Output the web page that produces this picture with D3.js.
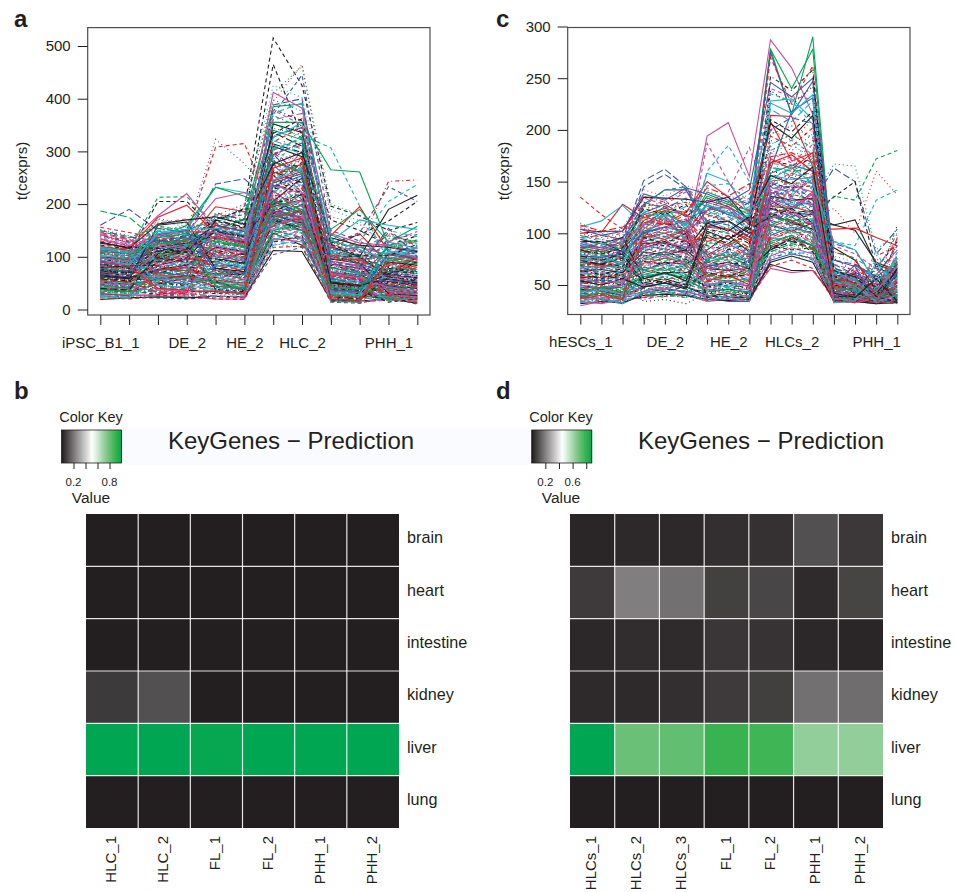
<!DOCTYPE html>
<html>
<head>
<meta charset="utf-8">
<script src="https://cdnjs.cloudflare.com/ajax/libs/d3/7.8.5/d3.min.js"></script>
<style>
  html, body { margin: 0; padding: 0; background: #fff; overflow: hidden; }
  text { font-family: "Liberation Sans", Arial, sans-serif; fill: #231f20; }
</style>
</head>
<body>
<div id="chart"></div>
<script>
// PANEL A DATA
const samplesA = ["iPSC_B1_1","iPSC_B1_2","DE_1","DE_2","HE_1","HE_2","HLC_1","HLC_2","FL_1","FL_2","PHH_1","PHH_2"];
const labelsA = ["iPSC_B1_1","DE_2","HE_2","HLC_2","PHH_1"];
const ticksA = [0,100,200,300,400,500];

const bulkA = [
[19,22,24,22,25,24,112,110,18,16,20,12],[22,20,26,28,20,19,118,120,16,14,18,14],[24,26,23,25,27,29,125,118,22,20,24,16],
[26,24,30,27,33,28,130,124,20,12,22,18],[28,30,34,31,24,26,122,132,24,22,19,20],[30,27,28,33,36,32,135,128,26,24,28,22],
[32,35,29,36,30,34,128,140,19,26,21,24],[34,31,38,30,40,37,142,131,28,18,30,15],[36,38,33,41,35,30,138,146,23,30,25,28],
[38,34,42,37,44,41,150,136,30,25,34,19],[40,42,36,45,38,46,132,152,21,33,27,31],[42,39,47,40,50,36,158,144,33,28,24,26],
[44,46,41,49,43,52,146,162,27,35,38,22],[46,43,52,44,56,47,165,150,35,21,30,36],[48,50,45,55,49,58,140,170,25,38,42,29],
[50,47,57,48,62,44,175,155,38,30,26,33],[52,55,50,60,54,65,152,180,29,42,46,25],[54,51,62,53,68,50,185,160,40,24,36,40],
[56,59,54,66,60,71,160,190,32,45,33,30],[58,55,67,58,74,56,195,165,44,36,50,27],[60,63,59,71,65,78,168,200,36,48,40,44],
[62,58,72,63,80,60,205,172,47,28,35,34],[64,67,64,76,70,84,175,210,30,50,54,38],[66,62,77,68,86,66,215,178,50,40,44,48],
[68,71,69,81,75,90,182,220,34,55,37,32],[70,66,82,73,92,70,225,185,54,33,58,42],[72,75,74,86,80,96,190,230,38,46,48,52],
[74,70,87,78,98,76,235,192,42,58,41,36],[76,79,79,91,85,102,198,240,56,37,62,46],[78,74,92,83,104,80,245,200,31,60,52,56],
[80,83,84,96,90,108,205,250,60,44,45,40],[82,78,97,88,110,86,255,208,46,64,66,50],[84,87,89,101,95,114,212,260,35,39,56,60],
[86,82,102,93,116,90,265,215,64,52,49,44],[88,91,94,106,100,120,220,270,48,68,70,54],[90,86,107,98,122,96,275,222,40,47,60,64],
[92,95,99,111,105,126,228,280,68,56,53,48],[94,90,112,103,128,100,285,230,52,72,74,58],[96,99,104,116,110,132,235,290,44,50,64,68],
[98,94,117,108,134,106,295,238,72,60,57,52],[100,103,109,121,115,138,242,300,56,76,78,62],[102,98,122,113,140,110,305,245,48,54,68,72],
[104,107,114,126,120,144,250,285,76,64,61,56],[106,102,127,118,146,116,298,255,60,80,82,66],[108,111,119,131,125,150,258,275,52,58,72,76],
[110,106,132,123,152,120,280,262,80,68,65,60],[112,115,124,136,130,156,265,268,64,84,86,70],[114,110,137,128,158,126,270,270,56,62,76,80],
[116,119,129,141,135,162,275,272,84,72,69,64],[118,114,142,133,164,130,260,265,68,88,90,74],
[45,40,58,62,50,46,150,162,30,26,22,18],[72,66,48,52,84,80,210,196,18,22,44,38],[36,32,70,76,40,36,232,250,58,50,30,26],
[96,90,84,92,62,58,178,190,40,34,70,62],[58,52,110,118,96,88,262,240,24,20,52,46],[120,112,66,60,44,40,196,208,66,60,36,30],
[28,26,40,36,70,66,168,150,46,40,80,74],[84,78,130,124,110,102,280,300,34,28,26,22],[110,104,96,88,132,122,222,236,84,76,60,54],
[50,44,34,30,26,24,142,156,14,16,18,16],[66,60,76,84,118,110,310,290,52,46,90,84],[130,122,104,112,76,70,186,170,28,24,40,34],
[34,30,92,98,58,52,248,270,72,66,24,20],[88,82,54,48,142,134,204,220,20,18,66,58],[104,98,140,132,88,82,320,305,44,38,100,92],
[42,38,62,68,104,96,160,176,92,84,34,30],[76,70,118,126,38,34,238,222,36,30,74,68],[138,128,78,72,120,112,272,286,60,54,28,24],
[54,48,44,40,64,60,146,132,26,22,56,50],[92,86,126,134,150,140,330,345,80,72,42,36],[24,22,56,60,34,30,192,206,16,14,110,100],
[116,108,88,94,100,92,252,236,48,42,20,18],[62,56,150,158,72,68,218,200,100,90,62,56],[80,74,36,32,126,118,296,312,22,26,84,76],
[46,42,102,108,46,42,176,190,38,32,38,32],[126,118,70,64,160,148,240,258,70,62,118,108],[32,28,82,88,92,86,164,148,56,50,16,22],
[100,94,122,116,54,50,300,278,32,36,50,44],[70,64,50,46,112,104,228,244,110,98,78,70],[146,134,94,102,82,76,208,190,42,48,32,28],
[38,34,136,144,130,120,340,322,18,14,94,86],[86,80,60,56,42,38,184,198,62,56,58,52],[56,50,114,122,144,136,266,284,28,24,124,114],
[124,116,42,38,68,62,154,138,88,80,26,22],[74,68,98,90,170,156,314,298,50,44,68,60],[30,26,74,80,56,50,244,262,104,94,104,96],
[108,100,146,138,106,98,198,214,24,28,46,40],[48,44,30,28,36,32,290,268,44,40,36,30],[90,84,108,116,124,114,226,210,76,68,136,124],
[134,124,86,78,48,44,172,186,36,30,60,54],[64,58,160,166,78,72,352,336,96,88,30,26],[40,36,52,58,136,126,214,232,20,16,88,80],
[82,76,128,120,92,84,258,240,54,48,22,18],[112,106,72,66,176,160,182,166,116,104,72,64],[26,24,116,124,60,54,304,326,30,26,112,102],
[98,92,38,34,116,108,236,220,68,60,42,36],[60,54,90,98,152,142,200,218,40,36,14,20],[128,120,134,126,30,28,274,292,82,74,64,58],
[44,40,64,70,100,94,368,344,22,18,96,88],[78,72,154,146,66,60,190,172,58,52,54,48],[118,110,46,42,84,78,246,266,34,28,128,116],
[52,46,120,112,158,146,216,198,90,82,34,28],[94,88,80,86,38,36,328,350,46,42,80,72],[142,130,100,94,108,100,158,174,26,22,48,42],
[35,31,68,74,128,118,282,258,78,70,18,24],[68,62,142,150,74,68,234,254,38,34,106,98],[102,96,56,50,54,48,312,296,60,52,38,32],
[22,21,88,96,140,130,178,162,124,112,76,68],[86,78,112,104,96,88,380,358,16,18,62,54],[56,52,32,30,164,152,254,276,64,58,26,20],
[114,106,124,132,44,40,206,190,42,38,122,110],[48,42,76,82,86,80,294,316,100,92,44,38],[76,68,166,158,120,110,166,180,30,24,86,78],
[132,122,60,54,62,56,222,204,72,64,30,24],[40,37,106,114,148,138,336,310,50,46,58,50],[90,82,40,36,34,30,268,288,20,16,98,90],
[148,136,158,150,128,118,302,324,130,116,140,128],[152,140,112,120,150,136,344,330,112,100,112,130],[136,126,148,156,166,150,286,310,104,96,150,138],
[144,132,124,116,138,124,360,372,120,108,128,148],[128,116,162,170,176,162,276,298,136,122,118,110],[156,146,136,128,112,104,318,346,96,88,146,120],
[122,110,170,162,158,146,398,376,128,110,96,104],[140,128,94,102,184,168,292,318,88,78,134,142],[116,106,150,142,122,112,372,392,108,98,108,116],
[134,120,140,148,146,132,412,382,144,126,122,96],[126,118,116,108,168,154,334,362,124,102,102,124],[108,96,172,164,134,122,306,338,116,94,144,112],
[100,90,156,146,180,164,354,326,100,86,114,132],[150,138,130,138,100,92,388,400,92,82,154,100],[94,86,144,152,154,142,326,354,132,114,92,120],
[112,100,164,172,118,108,378,350,86,76,130,106]
];

// lines that stick out of the bundle in panel a, read one by one
const topA = [
[122,118,128,136,168,192,515,425,196,178,150,165],[98,104,118,125,150,172,465,330,170,150,122,140],
[110,120,132,148,178,200,395,465,176,162,118,130],[88,96,122,138,160,186,410,462,200,180,120,128],
[104,112,125,142,170,196,425,402,190,168,110,118],[92,100,136,150,172,180,370,445,150,130,96,108],
[75,80,98,118,150,172,385,390,142,118,104,94],[72,72,95,110,152,170,355,355,265,261,122,132],
[66,74,100,122,165,188,292,330,307,196,92,112],[80,86,112,142,308,315,182,160,122,110,84,96],
[92,98,126,150,323,277,210,176,118,98,80,90],[84,90,118,140,238,248,200,182,130,112,92,102],
[187,175,130,120,146,130,160,150,108,92,70,72],[160,190,150,125,140,122,172,164,90,70,62,80],
[106,112,213,214,162,138,178,170,118,96,74,100],[96,104,205,205,150,128,188,176,102,88,66,92],
[142,126,178,220,152,130,184,158,110,84,76,88],[112,116,175,198,144,126,166,172,96,94,70,84],
[98,108,142,152,232,222,205,184,112,118,104,112],[102,96,136,160,232,215,192,172,106,104,96,110],
[90,92,130,146,210,222,186,176,100,122,84,96],[78,82,120,130,195,186,176,186,116,144,86,118],
[86,88,110,128,180,172,156,150,128,120,243,246],[70,76,96,118,150,142,170,166,108,130,205,237],
[82,90,102,124,158,150,182,174,124,146,233,205],[72,74,92,116,138,128,178,164,102,100,190,217],
[68,72,106,132,170,190,196,180,126,142,168,205],[64,60,82,110,140,124,182,176,140,195,110,94],
[76,70,88,126,136,118,164,190,152,190,128,158],[62,58,74,98,122,108,150,170,130,170,160,152],
[52,48,58,64,54,36,145,122,70,66,42,26],[38,34,48,60,52,36,168,155,58,32,40,60],
[54,52,76,74,68,66,172,150,86,78,66,100],[100,94,110,124,160,148,206,182,120,100,62,90],
[30,28,26,24,20,20,132,136,30,26,20,14],[26,22,22,20,24,22,104,118,14,12,24,10]
];
const topAColor = ["black","black","red","green","cyan","blue","green","green","cyan","red","blue","blue",
  "green","blue","green","black","magenta","red","cyan","green","magenta","red","red","cyan",
  "blue","black","black","red","green","cyan","black","black","black","black","magenta","blue"];
const topADash = [1,1,2,2,2,1,0,0,1,1,2,4,4,4,1,1,0,0,0,0,0,0,3,1,1,0,1,0,0,0,0,0,0,0,0,1];

// PANEL C DATA
const samplesC = ["hESCs_1","hESCs_2","hESCs_3","DE_1","DE_2","DE_3","HE_1","HE_2","HE_3","HLCs_1","HLCs_2","HLCs_3","FL_1","FL_2","PHH_1","PHH_2"];
const labelsC = ["hESCs_1","DE_2","HE_2","HLCs_2","PHH_1"];
const ticksC = [50,100,150,200,250,300];

const bulkC = [
[32,34,33,40,41,40,36,35,36,72,78,72,34,34,32,33],[34,33,35,38,39,42,35,37,35,68,74,66,35,36,33,32],[35,36,34,42,40,38,38,36,38,80,76,78,36,35,34,35],
[36,35,38,41,44,41,37,39,37,76,82,74,37,38,35,33],[37,38,36,44,42,45,40,38,40,84,80,82,38,37,36,36],[38,37,40,43,46,43,39,42,39,78,86,80,35,39,33,38],
[39,41,38,47,44,48,42,40,42,88,84,86,40,38,37,34],[40,39,42,45,49,46,41,44,41,82,90,84,37,41,35,37],[41,43,40,49,47,51,44,42,44,92,88,90,42,40,38,35],
[42,41,44,48,52,48,43,46,43,86,94,88,39,43,36,39],[43,45,42,52,49,54,46,44,46,96,92,94,44,42,34,41],[44,43,46,50,55,51,45,48,45,90,98,92,41,45,39,36],
[45,47,44,55,52,57,48,46,48,100,96,98,46,39,37,40],[46,45,48,53,58,54,47,50,47,94,102,96,38,47,40,38],[47,49,46,58,55,60,50,48,50,104,100,102,48,44,35,43],
[48,47,50,56,61,57,49,53,49,98,106,100,43,49,41,37],[49,51,48,61,58,63,52,50,52,108,104,106,50,46,38,45],[50,49,52,59,64,60,51,55,51,102,110,104,40,51,42,39],
[51,53,50,64,61,66,54,52,54,112,108,110,52,42,36,47],[52,51,54,62,67,63,53,58,53,106,114,108,45,53,43,40],[53,55,52,67,64,69,56,54,56,116,112,114,54,48,39,49],
[54,53,56,65,70,66,55,60,55,110,118,112,47,55,44,42],[55,57,54,70,67,72,58,56,58,120,116,118,56,50,37,51],[56,55,58,68,73,69,57,63,57,114,122,116,42,57,45,44],
[57,59,56,73,70,75,60,58,60,124,120,122,58,52,41,53],[58,57,60,71,76,72,59,65,59,118,126,120,49,44,46,46],[59,61,58,76,73,78,62,60,62,128,124,126,60,54,38,55],
[60,59,62,74,79,75,61,68,61,122,130,124,44,59,47,48],[61,63,60,79,76,81,64,62,64,132,128,130,51,46,42,57],[62,61,64,77,82,78,63,70,63,126,134,128,46,56,48,50],
[63,65,62,82,79,84,66,64,66,136,132,134,53,61,40,59],[64,63,66,80,85,81,65,73,65,130,138,132,48,50,49,52],[65,67,64,85,82,87,68,66,68,140,136,138,55,58,43,61],
[66,65,68,83,88,84,67,75,67,134,142,136,50,63,50,54],[67,69,66,88,85,90,70,68,70,144,140,142,57,48,44,63],[68,67,70,86,91,87,69,78,69,138,146,140,36,60,51,56],
[69,71,68,91,88,93,72,70,72,148,144,146,59,52,39,65],[70,69,72,89,94,90,71,80,71,142,150,144,41,65,52,58],[71,73,70,94,91,96,74,72,74,152,148,150,61,46,45,67],
[72,71,74,92,97,93,73,83,73,146,154,148,38,62,53,60],[73,75,72,97,94,99,76,74,76,156,152,154,63,54,41,69],[74,73,76,95,100,96,75,85,75,150,158,152,45,67,54,62],
[75,77,74,100,97,102,78,76,78,160,156,158,65,50,46,71],[76,75,78,98,103,99,77,88,77,154,162,156,43,64,55,64],[77,79,76,103,100,105,80,78,80,164,160,162,67,56,42,73],
[78,77,80,101,106,102,79,90,79,158,166,160,52,69,56,66],[79,81,78,106,103,108,82,80,82,168,164,166,69,43,47,75],[80,79,82,104,109,105,81,93,81,162,170,164,39,66,57,68],
[82,84,80,108,110,104,88,84,90,170,166,172,62,58,48,78],[84,82,86,112,108,114,92,98,86,174,178,168,48,70,58,72],
[40,42,38,58,62,56,44,46,42,92,98,88,36,38,34,36],[55,52,58,44,48,42,76,80,72,128,136,120,40,36,38,33],[68,64,70,82,78,86,50,48,54,76,84,78,44,40,36,46],
[36,38,35,72,68,74,84,90,78,150,142,156,38,42,33,40],[74,70,76,50,54,48,62,58,66,84,92,86,35,34,44,38],[44,48,42,96,100,92,96,88,100,168,176,160,52,48,35,52],
[86,82,88,64,60,68,40,44,38,100,108,96,37,39,37,44],[33,36,34,88,84,92,78,84,74,190,180,196,34,36,40,34],[90,84,86,46,42,50,108,100,112,118,126,112,58,54,34,58],
[50,46,52,110,104,114,36,38,40,142,150,136,42,40,46,36],[94,90,96,56,62,54,102,94,106,206,192,214,36,34,35,66],[38,42,36,118,112,122,58,64,54,96,104,92,33,35,52,42],
[76,72,78,72,76,68,114,108,118,178,186,172,46,44,33,74],[42,46,40,36,40,38,44,50,42,104,112,100,39,37,58,48],[96,90,92,122,116,126,122,112,126,220,208,228,62,56,38,82],
[34,32,36,50,46,52,66,70,62,132,124,138,34,33,37,35],[60,56,62,96,90,100,38,42,36,86,94,82,50,46,66,60],[100,94,98,126,120,130,118,110,124,200,190,210,40,38,33,92],
[46,50,44,42,38,44,92,86,96,158,166,152,35,36,46,33],[92,86,90,130,124,134,126,118,130,112,120,106,66,60,42,70],[35,37,33,64,70,60,52,48,56,226,216,234,33,34,72,44],
[98,92,94,134,128,140,130,124,134,94,102,90,70,64,36,54],[58,54,60,34,36,32,42,46,40,238,224,242,37,40,34,36],[102,96,100,136,130,142,134,126,138,166,174,160,44,42,78,88],
[39,41,37,76,80,72,60,56,64,82,90,86,54,50,40,46],[104,98,102,138,132,144,138,130,142,246,232,250,74,68,33,62],[33,35,32,44,48,42,34,38,34,180,190,176,36,35,84,38],
[106,100,104,142,136,146,142,132,146,122,130,118,78,72,35,56],[64,60,66,56,52,60,48,52,46,252,238,258,34,36,60,34],[108,102,106,116,110,120,144,136,148,88,96,84,82,76,38,96],
[44,47,43,60,66,58,72,78,68,108,116,102,47,45,36,41],[52,55,50,78,82,74,68,64,72,134,144,128,43,47,33,50],[66,62,68,62,58,66,86,92,82,98,106,94,41,44,50,37],
[48,44,50,92,86,96,46,42,48,146,138,152,51,47,35,35],[78,74,80,52,56,50,98,90,104,116,124,110,38,41,42,64],[37,40,36,100,94,104,54,60,50,172,162,178,56,52,34,43],
[70,66,72,40,44,38,74,82,70,90,98,88,36,37,62,39],[41,44,39,84,90,80,104,96,110,184,172,190,45,43,37,33],[62,58,64,68,64,72,56,52,58,124,132,118,33,36,48,56],
[88,84,90,106,100,110,64,70,60,102,110,98,60,55,33,80],[54,50,56,48,52,46,110,102,116,156,148,164,42,38,56,34],[72,68,74,114,108,118,82,76,86,194,184,202,35,33,40,47],
[47,45,48,54,58,52,90,98,84,80,88,84,48,46,35,72],[80,76,82,86,80,90,70,66,74,138,148,132,39,42,68,36],[43,46,41,102,96,106,112,104,118,164,156,170,53,49,34,40],
[56,52,54,74,78,70,50,54,48,114,122,108,37,35,44,68],[84,80,86,124,118,128,100,94,108,210,198,218,64,58,39,33],[38,36,39,66,72,64,80,86,76,148,158,142,44,40,76,52],
[98,94,90,116,122,118,134,128,132,186,196,182,82,76,62,100],[86,88,82,100,106,112,122,136,128,200,212,206,74,70,58,88],[74,78,70,120,114,108,128,120,116,152,164,148,92,84,52,76],
[92,86,94,108,112,104,116,124,110,178,168,186,88,80,66,94],[80,82,76,126,130,122,100,106,96,196,204,192,76,62,48,108]
];

// lines that stick out of the bundle in panel c, read one by one
const topC = [
[78,76,84,96,118,92,194,207,155,287,260,215,58,52,60,84],[86,82,90,112,126,104,140,132,110,278,215,290,56,48,42,60],
[82,80,86,104,120,108,136,128,118,278,240,278,52,46,44,58],[72,70,84,108,122,100,128,118,112,275,215,247,60,54,40,66],
[84,78,88,110,116,96,130,124,104,270,225,262,50,44,46,62],[76,74,80,102,110,98,122,126,108,214,213,165,54,50,38,56],
[88,84,92,118,124,120,150,135,120,208,170,178,64,58,48,70],[70,72,76,94,112,104,146,148,130,235,228,205,48,40,36,52],
[74,70,78,100,114,94,158,150,118,228,230,210,60,46,42,76],[66,68,74,90,106,88,124,120,110,240,232,230,62,50,44,72],
[90,86,96,120,128,116,132,126,114,162,218,231,56,44,40,64],[135,118,104,128,126,130,118,112,96,130,158,176,46,42,38,50],
[104,101,128,115,122,118,108,104,92,126,124,140,44,40,36,48],[106,112,127,108,118,110,126,124,100,150,136,156,42,38,34,46],
[110,100,92,126,122,132,120,118,106,156,144,150,66,62,50,90],[100,102,102,135,134,133,130,135,112,132,120,118,108,113,70,62],
[96,98,94,151,162,145,110,116,104,146,122,138,90,84,54,70],[92,90,88,145,157,143,112,122,108,140,130,128,70,60,46,58],
[88,86,82,128,142,142,106,112,96,124,116,122,64,56,44,52],[86,90,84,126,142,145,118,128,122,138,126,132,60,50,42,54],
[62,60,66,92,90,84,160,185,150,136,128,146,50,46,44,60],[56,58,62,88,84,80,187,150,120,142,134,126,54,48,40,56],
[60,62,68,96,90,86,130,140,183,128,142,152,48,44,46,64],[70,66,60,84,88,80,116,120,112,118,124,134,167,165,84,100],
[64,66,72,90,92,82,112,108,96,134,126,130,163,150,80,104],[68,60,64,78,82,76,104,100,90,128,110,120,135,150,66,92],
[58,54,60,74,80,72,98,94,84,118,108,112,136,132,172,180],[54,56,58,70,76,66,90,92,80,110,100,108,92,88,132,142],
[60,58,56,68,78,70,92,90,86,124,118,116,124,100,160,137],[72,70,66,86,92,84,110,112,100,108,102,110,108,103,72,64],
[74,68,70,88,94,80,106,104,94,116,112,104,104,105,96,88],[50,46,48,58,62,62,68,72,66,84,96,88,60,56,42,40],
[92,92,82,64,72,70,84,98,82,120,110,104,86,74,46,62],[46,44,40,48,52,48,40,38,38,70,64,64,38,36,33,35],
[30,34,36,38,42,40,34,36,38,66,62,64,40,38,34,34],[40,36,32,42,46,44,38,34,34,74,80,76,36,34,32,36]
];
const topCColor = ["magenta","green","green","blue","red","red","red","cyan","cyan","magenta","blue","red",
  "red","cyan","green","black","blue","blue","blue","green","cyan","magenta","magenta","green",
  "blue","black","green","cyan","red","black","red","black","black","black","magenta","blue"];
const topCDash = [0,0,0,0,1,0,0,1,0,1,0,1,0,0,2,0,4,4,0,1,1,1,1,2,4,1,1,1,2,0,0,0,0,0,0,0];

// PANEL B DATA
const tissues = ["brain","heart","intestine","kidney","liver","lung"];
const samplesB = ["HLC_1","HLC_2","FL_1","FL_2","PHH_1","PHH_2"];
const valuesB = [
[0,0,0,0,0,0],
[0,0,0,0,0,0],
[0,0,0,0,0,0],
[0.06,0.11,0,0,0,0],
[1,1,0.99,1,1,1],
[0,0,0,0,0,0]
];
const keyTicksB = [0.2,0.4,0.6,0.8];

// PANEL D DATA
const samplesD = ["HLCs_1","HLCs_2","HLCs_3","FL_1","FL_2","PHH_1","PHH_2"];
const valuesD = [
[0.014,0.02,0.02,0.032,0.036,0.096,0.05],
[0.054,0.186,0.16,0.064,0.076,0.024,0.072],
[0.018,0.028,0.024,0.046,0.04,0.018,0.014],
[0.022,0.022,0.032,0.054,0.062,0.16,0.154],
[0.88,0.695,0.71,0.783,0.77,0.628,0.628],
[0,0,0,0,0,0,0]
];
const keyTicksD = [0.2,0.4,0.6,0.8];

// COLORS AND LINE TYPES
const ink = "#231f20";
const lineColors = {black:"#231f20", red:"#ed1c24", green:"#00a651", blue:"#3f57a6", cyan:"#1fb3c8", magenta:"#cb4fa0"};
const colorCycle = ["black","red","green","blue","cyan","magenta"];
const dashCycle = [null,"4,3","1,3","1,3,4,3","7,3"];
const heatStops = [0,0.5,0.7135,0.79,0.89,1];
const heatRange = [ink,"#ffffff","#92ce99","#6bc077","#38b34f","#00a651"];

const svg = d3.select("#chart").append("svg")
  .attr("width", 957)
  .attr("height", 892);

// faint patch behind the left title
svg.append("rect")
  .attr("x", 122).attr("y", 428).attr("width", 408).attr("height", 37)
  .attr("fill", "#f9fbfe");

// panel letters
[["a",14,27],["c",496,27],["b",14,399],["d",496,399]].forEach(d => {
  svg.append("text")
    .attr("x", d[1]).attr("y", d[2])
    .attr("font-size", 24)
    .attr("font-weight", "bold")
    .text(d[0]);
});

drawLines({samples:samplesA, labels:labelsA, ticks:ticksA, bulk:bulkA, top:topA, topColor:topAColor, topDash:topADash,
  frame:[87.7,27.6,430,315], xRange:[100.3,417.3], yDomain:[0,500], yRange:[309.5,46], ylabelX:27});
drawLines({samples:samplesC, labels:labelsC, ticks:ticksC, bulk:bulkC, top:topC, topColor:topCColor, topDash:topCDash,
  frame:[567.7,27.5,910,314.5], xRange:[580.3,897.3], yDomain:[50,300], yRange:[285,26.5], ylabelX:509});

drawKey({x:61.5, domain:[0,1], ticks:keyTicksB, tickLabels:["0.2","0.8"], titleX:91, title:168});
drawKey({x:531.7, domain:[0,0.88], ticks:keyTicksD, tickLabels:["0.2","0.6"], titleX:561, title:638});

drawHeatmap({samples:samplesB, values:valuesB, x0:86, x1:399, domain:[0,1]});
drawHeatmap({samples:samplesD, values:valuesD, x0:570, x1:883, domain:[0,0.88]});



// LINE PANEL

function drawLines(cfg)
{
  const x = d3.scalePoint().domain(cfg.samples).range(cfg.xRange);
  const y = d3.scaleLinear().domain(cfg.yDomain).range(cfg.yRange);
  const line = d3.line().x((d,i) => x(cfg.samples[i])).y(d => y(d));
  const g = svg.append("g");

  // the single lines go first so the bundle stays mixed on top of them
  g.selectAll(".top").data(cfg.top).enter().append("path")
    .attr("d", line)
    .attr("fill", "none")
    .attr("stroke", (d,i) => lineColors[cfg.topColor[i]])
    .attr("stroke-dasharray", (d,i) => dashCycle[cfg.topDash[i]])
    .attr("stroke-width", 1.1);

  g.selectAll(".bulk").data(cfg.bulk).enter().append("path")
    .attr("d", line)
    .attr("fill", "none")
    .attr("stroke", (d,i) => lineColors[colorCycle[i % 6]])
    .attr("stroke-dasharray", (d,i) => dashCycle[i % 5])
    .attr("stroke-width", 1.1);

  svg.append("rect")
    .attr("x", cfg.frame[0]).attr("y", cfg.frame[1])
    .attr("width", cfg.frame[2]-cfg.frame[0]).attr("height", cfg.frame[3]-cfg.frame[1])
    .attr("fill", "none")
    .attr("stroke", "#4d4d4f")
    .attr("stroke-width", 1.2);

  const yAxis = d3.axisLeft(y).tickValues(cfg.ticks).tickSize(10).tickPadding(7);
  const gy = svg.append("g")
    .attr("transform", "translate(" + cfg.frame[0] + ",0)")
    .call(yAxis);
  gy.select(".domain").remove();
  gy.selectAll("text").attr("font-size", 15).attr("font-family", null).style("fill", ink);
  gy.selectAll("line").attr("stroke", ink);

  const xAxis = d3.axisBottom(x).tickSize(10).tickPadding(12)
    .tickFormat(d => cfg.labels.includes(d) ? d : "");
  const gx = svg.append("g")
    .attr("transform", "translate(0," + cfg.frame[3] + ")")
    .call(xAxis);
  gx.select(".domain").remove();
  gx.selectAll("text").attr("font-size", 15).attr("font-family", null).style("fill", ink);
  gx.selectAll("line").attr("stroke", ink);

  svg.append("text")
    .attr("transform", "translate(" + cfg.ylabelX + ",171) rotate(-90)")
    .attr("text-anchor", "middle")
    .attr("font-size", 15)
    .text("t(cexprs)");
}



// HEATMAP COLOR

function heatColor(domain)
{
  return d3.scaleLinear()
    .domain(heatStops.map(s => domain[0] + s*(domain[1]-domain[0])))
    .range(heatRange);
}



// COLOR KEY

function drawKey(cfg)
{
  const w = 60;
  const top = 430;
  const h = 33;
  const xKey = d3.scaleLinear().domain(cfg.domain).range([cfg.x, cfg.x+w]);
  const color = heatColor(cfg.domain);
  const steps = d3.range(0, 60).map(i => cfg.domain[0] + (cfg.domain[1]-cfg.domain[0]) * i / 60);

  svg.selectAll(null).data(steps).enter().append("rect")
    .attr("x", d => xKey(d))
    .attr("y", top)
    .attr("width", w/60 + 0.5)
    .attr("height", h)
    .attr("fill", d => color(d));

  svg.append("rect")
    .attr("x", cfg.x).attr("y", top)
    .attr("width", w).attr("height", h)
    .attr("fill", "none")
    .attr("stroke", ink)
    .attr("stroke-width", 0.8);

  const axis = d3.axisBottom(xKey).tickValues(cfg.ticks).tickSize(6)
    .tickFormat(() => "");
  const gk = svg.append("g")
    .attr("transform", "translate(0," + (top+h) + ")")
    .call(axis);
  gk.select(".domain").remove();
  gk.selectAll("line").attr("stroke", ink);

  svg.selectAll(null).data(cfg.tickLabels).enter().append("text")
    .attr("x", d => xKey(+d))
    .attr("y", 486)
    .attr("text-anchor", "middle")
    .attr("font-size", 11.5)
    .text(d => d);

  svg.append("text")
    .attr("x", cfg.titleX).attr("y", 422)
    .attr("text-anchor", "middle")
    .attr("font-size", 14.5)
    .text("Color Key");
  svg.append("text")
    .attr("x", cfg.titleX).attr("y", 503)
    .attr("text-anchor", "middle")
    .attr("font-size", 15.5)
    .text("Value");

  svg.append("text")
    .attr("x", cfg.title).attr("y", 449)
    .attr("font-size", 24)
    .text("KeyGenes \u2212 Prediction");
}



// HEATMAP

function drawHeatmap(cfg)
{
  const x = d3.scaleBand().domain(cfg.samples).range([cfg.x0, cfg.x1]);
  const y = d3.scaleBand().domain(tissues).range([514, 828]);
  const color = heatColor(cfg.domain);

  tissues.forEach((tissue,r) => {
    svg.selectAll(null).data(cfg.values[r]).enter().append("rect")
      .attr("x", (d,c) => x(cfg.samples[c]))
      .attr("y", y(tissue))
      .attr("width", x.bandwidth())
      .attr("height", y.bandwidth())
      .attr("fill", d => color(d));
  });

  // white grid between the cells
  svg.selectAll(null).data(cfg.samples.slice(1)).enter().append("line")
    .attr("x1", d => x(d)).attr("x2", d => x(d))
    .attr("y1", 514).attr("y2", 828)
    .attr("stroke", "#fff").attr("stroke-opacity", 0.85).attr("stroke-width", 1.2);
  svg.selectAll(null).data(tissues.slice(1)).enter().append("line")
    .attr("y1", d => y(d)).attr("y2", d => y(d))
    .attr("x1", cfg.x0).attr("x2", cfg.x1)
    .attr("stroke", "#fff").attr("stroke-opacity", 0.85).attr("stroke-width", 1.2);

  svg.selectAll(null).data(tissues).enter().append("text")
    .attr("x", cfg.x1 + 8)
    .attr("y", d => y(d) + y.bandwidth()/2 - 1)
    .attr("dominant-baseline", "middle")
    .attr("font-size", 16.2)
    .text(d => d);

  svg.selectAll(null).data(cfg.samples).enter().append("text")
    .attr("transform", d => "translate(" + (x(d) + x.bandwidth()/2 + 4) + ",836) rotate(-90)")
    .attr("text-anchor", "end")
    .attr("font-size", 15)
    .text(d => d);
}
</script>
</body>
</html>
